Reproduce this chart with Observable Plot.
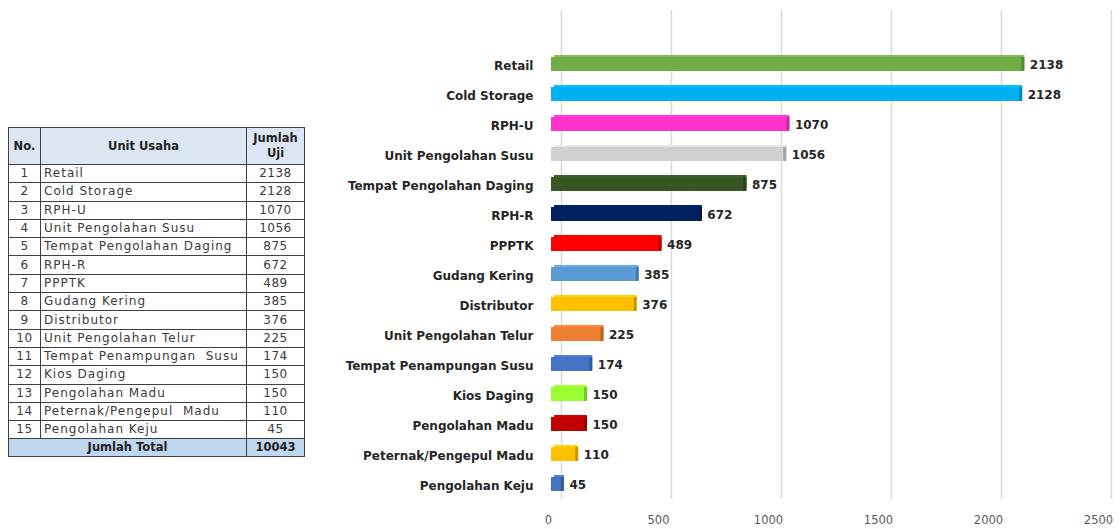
<!DOCTYPE html>
<html><head><meta charset="utf-8">
<script src="https://cdn.jsdelivr.net/npm/d3@7"></script>
<script src="https://cdn.jsdelivr.net/npm/@observablehq/plot@0.6"></script>
<style>
body{margin:0;background:#fff;width:1120px;height:529px;overflow:hidden;position:relative;font-family:"DejaVu Sans",sans-serif}
#chart{position:absolute;left:0;top:0}
#tbl{position:absolute;left:8px;top:127px;border-collapse:collapse;table-layout:fixed;font-size:12px;color:#3a3a3a;letter-spacing:1px}
#tbl td,#tbl th{border:1.5px solid #404040;padding:0 3px;line-height:15px;white-space:nowrap;overflow:hidden}
#tbl th{background:#dce6f2;font-weight:bold;font-size:11.5px;color:#222;letter-spacing:0}
#tbl tr.row td{height:17.3px}
#tbl td.no{text-align:center;letter-spacing:0.5px}
#tbl td.val{text-align:center;letter-spacing:0.5px}
#tbl tr.total td{background:#bdd7ee;font-weight:bold;text-align:center;font-size:11.5px;color:#222;letter-spacing:0;height:17px}
</style>
</head><body>
<table id="tbl"></table>
<div id="chart"></div>
<script>
const categories = ["Retail","Cold Storage","RPH-U","Unit Pengolahan Susu","Tempat Pengolahan Daging","RPH-R","PPPTK","Gudang Kering","Distributor","Unit Pengolahan Telur","Tempat Penampungan Susu","Kios Daging","Pengolahan Madu","Peternak/Pengepul Madu","Pengolahan Keju"];
const tableNames = ["Retail","Cold Storage","RPH-U","Unit Pengolahan Susu","Tempat Pengolahan Daging","RPH-R","PPPTK","Gudang Kering","Distributor","Unit Pengolahan Telur","Tempat Penampungan  Susu","Kios Daging","Pengolahan Madu","Peternak/Pengepul  Madu","Pengolahan Keju"];
const values = [2138,2128,1070,1056,875,672,489,385,376,225,174,150,150,110,45];
const colors = ["#70ad47","#00b0f0","#ff33cc","#d0d0d0","#375623","#002060","#ff0000","#5b9bd5","#ffc000","#ed7d31","#4472c4","#99ff33","#c00000","#ffc000","#4472c4"];
const xTicks = [0,500,1000,1500,2000,2500];
const totalLabel = "Jumlah Total";
const totalValue = 10043;

// table
const tbl = document.getElementById("tbl");
let html = '<colgroup><col style="width:32px"><col style="width:206px"><col style="width:58px"></colgroup>';
html += '<tr style="height:37px"><th>No.</th><th>Unit Usaha</th><th style="line-height:15px">Jumlah<br>Uji</th></tr>';
tableNames.forEach((n,i)=>{
  html += `<tr class="row"><td class="no">${i+1}</td><td style="white-space:pre">${n}</td><td class="val">${values[i]}</td></tr>`;
});
html += `<tr class="total"><td colspan="2">${totalLabel}</td><td>${totalValue}</td></tr>`;
tbl.innerHTML = html;

const data = categories.map((c,i)=>({unit:c, value:values[i], color:colors[i],
  side:d3.color(colors[i]).darker(0.7).formatHex(),
  top:d3.color(colors[i]).brighter(0.3).formatHex()}));

const plot = Plot.plot({
  width:1120, height:529,
  marginLeft:551, marginRight:19, marginTop:37, marginBottom:18,
  x:{domain:[0,2500], label:null},
  y:{domain:categories, padding:0.54, label:null},
  color:{type:"identity"},
  style:{fontFamily:"DejaVu Sans", fontSize:"11px", color:"#262626", background:"transparent"},
  marks:[
    Plot.ruleX(xTicks, {x:d=>d, dx:10, stroke:"#d9d9d9", strokeWidth:1.5, insetTop:-27, insetBottom:12}),
    Plot.barX(data, {y:"unit", x:"value", fill:"top", dx:3, dy:-2}),
    Plot.barX(data, {y:"unit", x:"value", fill:"side", dx:3}),
    Plot.barX(data, {y:"unit", x:"value", fill:"color"}),
    Plot.text(data, {y:"unit", x:"value", text:d=>String(d.value), dx:8, dy:1, textAnchor:"start", fontWeight:"bold", fontSize:12, fill:"#262626"}),
    Plot.axisY({tickSize:0, tickPadding:18, fontWeight:"bold", fontSize:12, dy:2, label:null, fill:"#262626"}),
    Plot.axisX({ticks:xTicks, tickSize:0, tickPadding:4, dx:-3, fontSize:11.5, label:null, fill:"#595959", tickFormat:d=>String(d)})
  ]
});
document.getElementById("chart").appendChild(plot);
</script>
</body></html>
